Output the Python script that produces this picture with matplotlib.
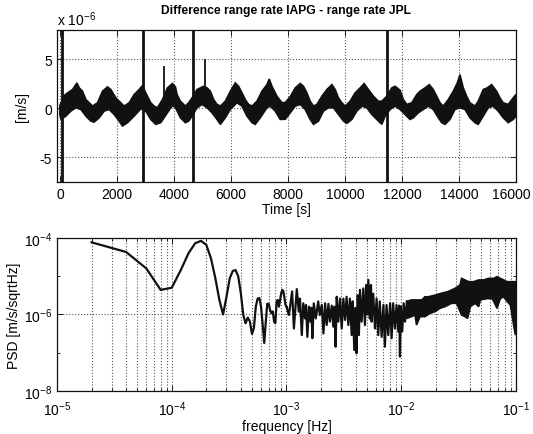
import numpy as np
import matplotlib
matplotlib.use("Agg")
import matplotlib.pyplot as plt
from matplotlib.ticker import LogLocator, NullFormatter, FixedLocator
from matplotlib.transforms import ScaledTranslation

plt.rcParams['font.family'] = ['Liberation Sans', 'DejaVu Sans']
plt.rcParams['mathtext.default'] = 'regular'
plt.rcParams['axes.unicode_minus'] = False

# ---------------- top panel data (time in s, values in 1e-6 m/s) ----------------
t_upper = [0, 153, 270, 445, 596, 680, 795, 912, 1030, 1145, 1320, 1496, 1671, 1787, 1962,
           2137, 2256, 2431, 2606, 2781, 2897, 3013, 3188, 3307, 3422, 3598, 3773, 3948,
           4053, 4112, 4228, 4403, 4519, 4638, 4813, 4929, 5044, 5163, 5279, 5395, 5514,
           5629, 5805, 5980, 6155, 6270, 6389, 6505, 6621, 6740, 6915, 7090, 7265, 7346,
           7440, 7615, 7790, 7906, 8082, 8257, 8432, 8547, 8666, 8782, 8898, 9017, 9192,
           9367, 9542, 9658, 9773, 9892, 10008, 10183, 10358, 10534, 10674, 10824, 10999,
           11174, 11294, 11469, 11644, 11760, 11935, 12050, 12170, 12345, 12520, 12635,
           12810, 12961, 13101, 13220, 13336, 13451, 13627, 13802, 13942, 14036, 14152,
           14271, 14387, 14562, 14677, 14853, 14993, 15147, 15322, 15438, 15553, 15729,
           15904, 16000]
v_upper = [0.3, 1.32, 1.59, 1.93, 2.6, 2.1, 1.76, 0.91, 0.58, 0.24, 0.58, 1.76, 2.2, 1.93, 1.08,
           0.58, 0.24, 0.58, 1.42, 1.93, 2.33, 1.59, 0.58, 0.24, 0.07, 0.91, 2.1, 2.54,
           2.2, 1.42, 0.74, 0.24, 0.58, 1.08, 1.93, 2.1, 2.26, 2.1, 1.76, 0.91, 0.41,
           0.24, 0.74, 1.76, 2.6, 2.26, 1.59, 0.91, 0.41, 0.24, 0.74, 1.76, 2.43, 3.0,
           2.26, 1.25, 0.58, 0.6, 1.2, 2.1, 2.54, 2.26, 1.59, 0.74, 0.24, 0.41, 1.25,
           1.93, 2.43, 1.93, 1.08, 0.58, 0.24, 0.74, 1.59, 2.1, 2.54, 1.93, 1.25,
           0.74, 0.74, 1.25, 2.1, 2.26, 1.85, 0.91, 0.41, 0.58, 1.42, 1.76,
           2.1, 2.43, 1.93, 1.25, 0.58, 0.24, 0.91, 1.76, 2.6, 3.45, 2.1,
           1.25, 0.58, 0.24, 0.74, 1.93, 2.1, 2.43, 1.76, 1.08, 0.58, 0.41,
           1.08, 1.42]
t_lower = [0, 35, 210, 385, 560, 736, 912, 1087, 1204, 1379, 1554, 1729, 1904, 2079, 2196,
           2372, 2606, 2840, 3013, 3188, 3363, 3538, 3773, 3948, 4053, 4228, 4403, 4519,
           4638, 4813, 4988, 5163, 5338, 5514, 5629, 5805, 5980, 6213, 6389, 6564, 6740,
           6855, 7030, 7265, 7381, 7556, 7731, 7906, 8082, 8257, 8432, 8607, 8782, 8898,
           9073, 9248, 9423, 9598, 9773, 9948, 10068, 10243, 10418, 10593, 10768, 10943,
           11118, 11294, 11409, 11584, 11760, 11935, 12110, 12285, 12401, 12576, 12751,
           12926, 13101, 13276, 13395, 13511, 13686, 13861, 14036, 14212, 14387, 14562,
           14677, 14853, 15028, 15203, 15378, 15553, 15729, 15904, 16000]
v_lower = [-0.6, -1.12, -0.78, -0.27, 0.07, -0.1, -0.78, -1.29, -1.39, -0.95, -0.27, -0.1, -0.61, -1.29, -1.79,
           -1.45, -0.78, -0.03, -0.27, -1.12, -1.62, -1.45, -0.44, 0.3, 0.1, -0.95, -1.45, -1.29,
           -0.78, 0.07, 0.41, 0.07, -0.44, -1.12, -1.62, -0.95, -0.1, 0.58, 0.24, -0.78, -1.45,
           -1.62, -0.95, 0.07, 0.24, -0.27, -1.12, -1.1, -0.44, 0.24, 0.41, -0.1, -1.12, -1.62,
           -1.29, -0.27, 0.07, 0.07, -0.61, -1.29, -1.52, -1.12, -0.27, 0.24, 0.07, -0.61,
           -1.12, -1.62, -0.78, -0.1, 0.24, -0.1, -0.61, -1.12, -0.95, -0.44, -0.1,
           0.24, -0.1, -0.95, -1.45, -1.62, -1.12, -0.1, 0.07, -0.1, -0.95, -1.45,
           -1.62, -0.78, 0.07, 0.24, -0.27, -0.95, -1.45, -1.12, -0.78]

# large glitches (off-scale) and two small spikes
glitch_t = [90, 2900, 4680, 11470]
glitch_lo = [-50.0, -50.0, -50.0, -50.0]
glitch_hi = [50.0, 50.0, 50.0, 50.0]
spike_t = [3670, 5080]
spike_base = [0.8, 1.0]
spike_peak = [4.3, 5.0]

# ---------------- bottom panel data (PSD) ----------------
# low-frequency part: individual bins
f_line = [2e-5, 4e-5, 6e-5, 8e-5, 1.0e-4, 1.2e-4, 1.4e-4, 1.6e-4, 1.8e-4, 2.0e-4, 2.2e-4,
          2.4e-4, 2.6e-4, 2.8e-4, 3.0e-4, 3.2e-4, 3.4e-4, 3.6e-4, 3.8e-4, 4.0e-4, 4.2e-4,
          4.4e-4, 4.6e-4, 4.8e-4, 5.0e-4, 5.2e-4, 5.4e-4, 5.6e-4, 5.8e-4, 6.0e-4, 6.2e-4,
          6.4e-4, 6.6e-4, 6.8e-4, 7.0e-4, 7.2e-4, 7.4e-4, 7.6e-4, 7.8e-4, 8.0e-4, 8.2e-4,
          8.4e-4, 8.6e-4, 8.8e-4, 9.0e-4, 9.2e-4, 9.4e-4, 9.6e-4, 9.8e-4, 1.0e-3]
p_line = [7.7e-5, 4.3e-5, 1.6e-5, 4.4e-6, 5.0e-6, 1.46e-5, 4.0e-5, 7.3e-5, 8.4e-5, 6.6e-5, 2.9e-5,
          8.8e-6, 2.4e-6, 1.0e-6, 2.9e-6, 8.8e-6, 1.37e-5, 1.45e-5, 9.8e-6, 3.6e-6, 9.8e-7,
          5.9e-7, 8.3e-7, 6.5e-7, 3.1e-7, 4.4e-7, 1.6e-6, 2.6e-6, 2.7e-6, 1.6e-6, 5.4e-7,
          1.8e-7, 6.5e-7, 1.9e-6, 1.9e-6, 1.3e-6, 1.07e-6, 1.2e-6, 6.5e-7, 5.9e-7, 2.2e-6,
          2.4e-6, 1.6e-6, 2.4e-6, 3.6e-6, 4.4e-6, 4.0e-6, 2.7e-6, 1.8e-6, 1.6e-6]

# mid-frequency part: visible peaks and dips of the dense trace
f_zig = [1.00e-3, 1.05e-3, 1.12e-3, 1.16e-3, 1.23e-3, 1.28e-3, 1.31e-3, 1.36e-3, 1.40e-3,
         1.45e-3, 1.48e-3, 1.52e-3, 1.57e-3, 1.62e-3, 1.65e-3, 1.68e-3, 1.73e-3, 1.80e-3,
         1.89e-3, 1.95e-3, 2.03e-3, 2.10e-3, 2.17e-3, 2.24e-3, 2.32e-3, 2.39e-3, 2.48e-3,
         2.56e-3, 2.62e-3, 2.68e-3, 2.74e-3, 2.83e-3, 2.93e-3, 3.03e-3, 3.13e-3, 3.24e-3,
         3.34e-3, 3.46e-3, 3.57e-3, 3.70e-3, 3.78e-3, 3.90e-3, 4.00e-3, 4.08e-3, 4.18e-3,
         4.28e-3, 4.37e-3, 4.52e-3, 4.67e-3, 4.83e-3, 4.95e-3, 5.05e-3, 5.17e-3, 5.30e-3,
         5.45e-3, 5.52e-3, 5.70e-3, 5.91e-3, 6.10e-3, 6.31e-3, 6.50e-3, 6.75e-3, 7.00e-3,
         7.21e-3, 7.45e-3, 7.71e-3, 8.00e-3, 8.25e-3, 8.50e-3, 8.82e-3, 9.10e-3, 9.43e-3,
         9.60e-3, 9.75e-3, 9.90e-3, 1.02e-2, 1.05e-2, 1.08e-2, 1.12e-2]
p_zig = [1.6e-6, 9.7e-7, 4.0e-6, 4.3e-7, 4.6e-6, 1.19e-6, 2.6e-6, 2.9e-7, 1.96e-6,
         7.9e-7, 1.77e-6, 2.6e-7, 1.6e-6, 6.5e-7, 1.5e-6, 2.4e-7, 1.96e-6, 7.9e-7,
         2.2e-6, 9.7e-7, 1.77e-6, 3.2e-7, 1.96e-6, 5.3e-7, 1.9e-6, 6.5e-7, 1.7e-6,
         4.8e-7, 1.6e-6, 1.44e-7, 2.9e-6, 6.5e-7, 2.6e-6, 4.3e-7, 2.6e-6, 7.2e-7,
         2.9e-6, 5.3e-7, 2.6e-6, 2.9e-7, 2.2e-6, 1.18e-7, 1.5e-6, 9.7e-8, 3.2e-6,
         2.9e-7, 4.4e-6, 6.5e-7, 4.8e-6, 5.3e-7, 5.9e-6, 1.0e-6, 8.0e-6, 7.9e-7,
         5.9e-6, 6.5e-7, 3.5e-6, 4.3e-7, 2.6e-6, 2.9e-7, 2.2e-6, 2.6e-7, 1.77e-6,
         1.44e-7, 1.77e-6, 2.9e-7, 1.96e-6, 2.4e-7, 1.96e-6, 4.3e-7, 1.77e-6, 3.6e-7,
         1.7e-6, 7.9e-8, 1.6e-6, 3.6e-7, 1.96e-6, 6.5e-7, 2.2e-6]

# high-frequency part: envelope of the solid band
f_band_upper = [1.12e-2, 1.23e-2, 1.32e-2, 1.41e-2, 1.51e-2, 1.61e-2, 1.72e-2, 1.97e-2, 2.25e-2,
                2.57e-2, 2.94e-2, 3.25e-2, 3.36e-2, 3.59e-2, 3.87e-2, 4.28e-2, 4.73e-2, 5.23e-2,
                5.78e-2, 6.40e-2, 6.84e-2, 7.31e-2, 7.82e-2, 8.36e-2, 8.94e-2, 9.89e-2, 0.1]
p_band_upper = [2.2e-6, 2.4e-6, 2.4e-6, 2.4e-6, 2.4e-6, 2.9e-6, 2.9e-6, 3.2e-6, 3.6e-6,
                4.0e-6, 4.8e-6, 5.9e-6, 8.8e-6, 8.0e-6, 7.2e-6, 7.2e-6, 8.0e-6, 8.0e-6,
                8.8e-6, 8.8e-6, 9.7e-6, 8.8e-6, 8.0e-6, 7.2e-6, 7.2e-6, 7.2e-6, 6.5e-6]
f_band_lower = [1.12e-2, 1.23e-2, 1.32e-2, 1.36e-2,
                1.46e-2, 1.61e-2, 1.78e-2, 1.97e-2, 2.18e-2, 2.41e-2, 2.57e-2, 2.75e-2, 3.04e-2,
                3.36e-2, 3.59e-2, 3.79e-2, 4.00e-2, 4.42e-2, 4.73e-2, 4.90e-2, 5.60e-2, 6.18e-2,
                6.40e-2, 6.84e-2, 7.31e-2, 7.82e-2, 8.36e-2, 8.94e-2, 9.55e-2, 9.89e-2, 0.1]
p_band_lower = [7.9e-7, 8.8e-7, 9.7e-7, 5.3e-7,
                8.8e-7, 8.8e-7, 1.07e-6, 1.19e-6, 1.45e-6, 1.6e-6, 1.77e-6, 1.96e-6, 1.96e-6,
                9.7e-7, 8.8e-7, 7.9e-7, 1.6e-6, 1.96e-6, 1.6e-6, 2.4e-6, 2.6e-6, 2.6e-6,
                2.2e-6, 1.45e-6, 2.6e-6, 2.9e-6, 2.2e-6, 1.77e-6, 5.3e-7, 2.9e-7, 4.3e-7]

x_ticks_top = [0, 2000, 4000, 6000, 8000, 10000, 12000, 14000, 16000]
y_ticks_top = [-5, 0, 5]

# ---------------- figure ----------------
fig = plt.figure(figsize=(5.33, 4.35), dpi=100)
ink = '#111111'
grid_kw = dict(color='0.35', linestyle=':', linewidth=0.8)

ax1 = fig.add_axes([0.107, 0.5793, 0.861, 0.3494])
ax1.fill(np.concatenate([t_upper, t_lower[::-1]]),
         np.concatenate([v_upper, v_lower[::-1]]),
         facecolor=ink, edgecolor=ink, linewidth=1.2, zorder=3)
ax1.vlines(glitch_t, glitch_lo, glitch_hi, color=ink, linewidth=2.0, zorder=4)
ax1.vlines(spike_t, spike_base, spike_peak, color=ink, linewidth=1.3, zorder=4)
ax1.set_xlim(-100, 16000)
ax1.set_ylim(-7.5, 8)
ax1.set_xticks(x_ticks_top)
ax1.set_yticks(y_ticks_top)
ax1.grid(True, **grid_kw)
ax1.set_axisbelow(True)
ax1.set_xlabel('Time [s]', fontsize=10, labelpad=1)
ax1.set_ylabel('[m/s]', fontsize=10, labelpad=8)
ax1.set_title('Difference range rate IAPG - range rate JPL', fontsize=8.7,
              fontweight='bold', pad=12)
ax1.text(0.0, 1.015, 'x 10$^{-6}$', transform=ax1.transAxes, fontsize=10,
         ha='left', va='bottom')

ax2 = fig.add_axes([0.107, 0.0989, 0.861, 0.3517])
ax2.set_xscale('log')
ax2.set_yscale('log')
ax2.plot(f_line, p_line, color=ink, linewidth=1.6, zorder=4)
ax2.plot(f_zig, p_zig, color=ink, linewidth=1.6, zorder=4)
ax2.fill(np.concatenate([f_band_upper, f_band_lower[::-1]]),
         np.concatenate([p_band_upper, p_band_lower[::-1]]),
         facecolor=ink, edgecolor=ink, linewidth=1.2, zorder=3)
ax2.set_xlim(1e-5, 1e-1)
ax2.set_ylim(1e-8, 1e-4)
ax2.xaxis.set_major_locator(LogLocator(base=10, numticks=10))
ax2.xaxis.set_minor_locator(LogLocator(base=10, subs=np.arange(2, 10), numticks=20))
ax2.xaxis.set_minor_formatter(NullFormatter())
ax2.yaxis.set_major_locator(FixedLocator([1e-8, 1e-6, 1e-4]))
ax2.yaxis.set_minor_locator(FixedLocator([1e-7, 1e-5]))
ax2.yaxis.set_minor_formatter(NullFormatter())
ax2.grid(True, which='major', **grid_kw)
ax2.grid(True, which='minor', axis='x', **grid_kw)
ax2.set_axisbelow(True)
ax2.set_xlabel('frequency [Hz]', fontsize=10, labelpad=1)
ax2.set_ylabel('PSD [m/s/sqrtHz]', fontsize=10, labelpad=2)

for ax in (ax1, ax2):
    ax.tick_params(which='both', direction='in', top=True, right=True,
                   labelsize=10, width=0.6)
    ax.tick_params(which='major', length=4)
    ax.tick_params(which='minor', length=2)
    for s in ax.spines.values():
        s.set_linewidth(0.9)
        s.set_color(ink)
ax2.tick_params(axis='x', which='major', pad=6)

# nudge the last top-panel tick label slightly left so it stays inside the figure
fig.canvas.draw()
last = ax1.get_xticklabels()[-1]
last.set_transform(last.get_transform() + ScaledTranslation(-3 / 72, 0, fig.dpi_scale_trans))

fig.savefig('out.png', dpi=100)
